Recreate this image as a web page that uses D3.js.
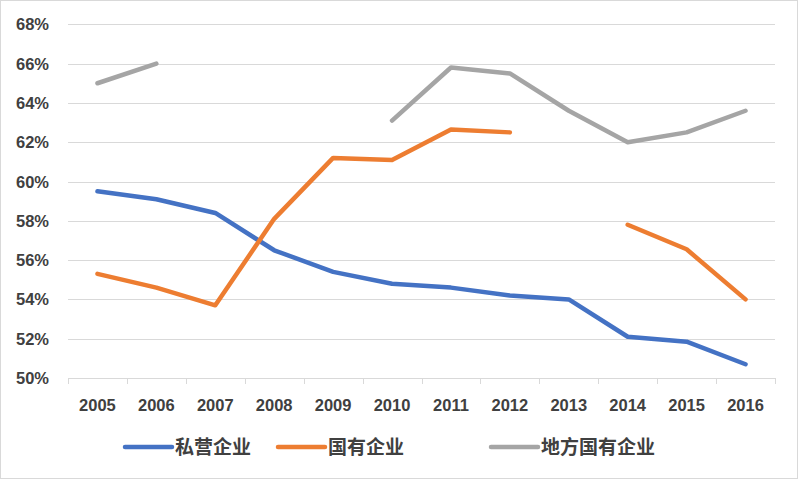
<!DOCTYPE html>
<html><head><meta charset="utf-8">
<script src="https://cdn.jsdelivr.net/npm/d3@7"></script>
<style>body{margin:0;background:#fff}</style>
</head><body>
<svg id="c" width="800" height="481"></svg>
<script>
const years = ["2005","2006","2007","2008","2009","2010","2011","2012","2013","2014","2015","2016"];
const seriesNames = ["私营企业","国有企业","地方国有企业"];
const privateVals = [59.5,59.1,58.4,56.5,55.4,54.8,54.6,54.2,54.0,52.1,51.85,50.7];
const stateVals = [55.3,54.6,53.7,58.1,61.2,61.1,62.65,62.5,null,57.8,56.55,54.0];
const localVals = [65.0,66.0,null,null,null,63.1,65.8,65.5,63.6,62.0,62.5,63.6];
const yTicks = [50,52,54,56,58,60,62,64,66,68];
const colors = ["#4472C4","#ED7D31","#A5A5A5"];

const svg = d3.select("#c");
svg.append("rect").attr("x",0.5).attr("y",0.5).attr("width",797).attr("height",478)
  .attr("fill","#fff").attr("stroke","#d9d9d9");

const pLeft = 68, pRight = 775, pTop = 24.3, pBottom = 378;
const x = d3.scaleBand().domain(years).range([pLeft,pRight]);
const y = d3.scaleLinear().domain([50,68]).range([pBottom,pTop]);

// gridlines
svg.append("g").selectAll("line").data(yTicks).join("line")
  .attr("x1",pLeft).attr("x2",pRight)
  .attr("y1",d=>Math.round(y(d))+0.5).attr("y2",d=>Math.round(y(d))+0.5)
  .attr("stroke","#d9d9d9").attr("stroke-width",1);

// y labels
svg.append("g").selectAll("text").data(yTicks).join("text")
  .attr("x",49).attr("y",d=>y(d)+6)
  .attr("text-anchor","end")
  .attr("font-family","Liberation Sans, Arial, sans-serif").attr("font-weight","bold")
  .attr("font-size",16.5).attr("fill","#404040")
  .text(d=>d+"%");

// x axis ticks
const bounds = years.map(d=>x(d)).concat([pRight]);
svg.append("g").selectAll("line").data(bounds).join("line")
  .attr("x1",d=>Math.round(d)+0.5).attr("x2",d=>Math.round(d)+0.5)
  .attr("y1",pBottom).attr("y2",pBottom+6)
  .attr("stroke","#d9d9d9");
svg.append("g").selectAll("text").data(years).join("text")
  .attr("x",d=>x(d)+x.bandwidth()/2).attr("y",411)
  .attr("text-anchor","middle")
  .attr("font-family","Liberation Sans, Arial, sans-serif").attr("font-weight","bold")
  .attr("font-size",16.5).attr("fill","#404040")
  .text(d=>d);

// lines
const line = d3.line()
  .defined(d=>d.v!==null)
  .x(d=>x(d.year)+x.bandwidth()/2)
  .y(d=>y(d.v));
[privateVals,stateVals,localVals].forEach((vals,i)=>{
  const data = years.map((yr,j)=>({year:yr,v:vals[j]}));
  svg.append("path").datum(data).attr("d",line)
    .attr("fill","none").attr("stroke",colors[i]).attr("stroke-width",4.5)
    .attr("stroke-linejoin","round").attr("stroke-linecap","round");
});

// legend
const legX = [125,278,491];
const lg = svg.append("g");
seriesNames.forEach((n,i)=>{
  lg.append("line").attr("x1",legX[i]).attr("x2",legX[i]+47)
    .attr("y1",447).attr("y2",447)
    .attr("stroke",colors[i]).attr("stroke-width",4.5).attr("stroke-linecap","round");
  lg.append("text").attr("x",legX[i]+50).attr("y",454)
    .attr("font-family","Noto Sans CJK SC, sans-serif").attr("font-weight","bold")
    .attr("font-size",19).attr("fill","#404040").text(n);
});
</script>
</body></html>
